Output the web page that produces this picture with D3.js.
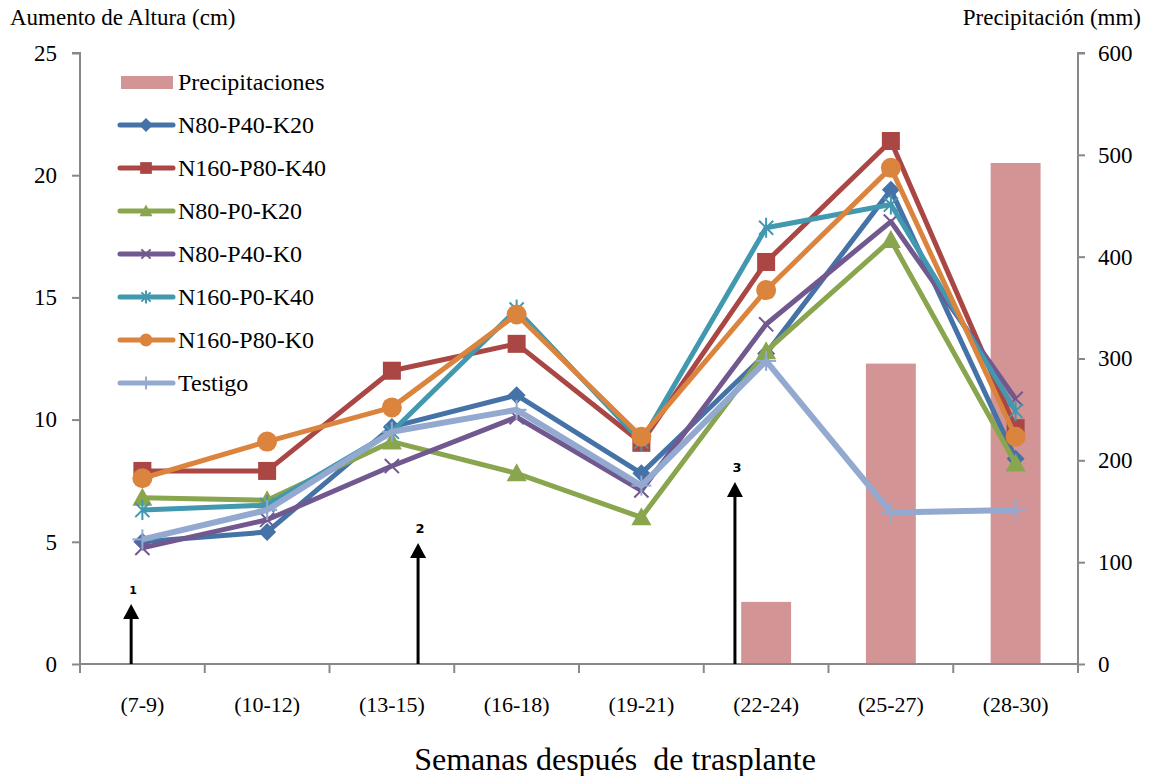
<!DOCTYPE html>
<html><head><meta charset="utf-8">
<script src="https://cdn.jsdelivr.net/npm/d3@7/dist/d3.min.js"></script>
<style>body{margin:0;background:#fff}svg{display:block}</style>
</head><body>
<svg id="c" width="1150" height="776" font-family="Liberation Serif"></svg>
<script>
const categories = ["(7-9)","(10-12)","(13-15)","(16-18)","(19-21)","(22-24)","(25-27)","(28-30)"];
const precipitacion = [null,null,null,null,null,61,295,492];
const seriesNames = ["N80-P40-K20","N160-P80-K40","N80-P0-K20","N80-P40-K0","N160-P0-K40","N160-P80-K0","Testigo"];
const s1 = [5.0,5.4,9.7,11.0,7.8,12.7,19.4,8.4];
const s2 = [7.9,7.9,12.0,13.1,9.05,16.45,21.4,9.65];
const s3 = [6.8,6.7,9.1,7.8,6.0,12.8,17.35,8.2];
const s4 = [4.75,5.9,8.1,10.1,7.1,13.9,18.1,10.85];
const s5 = [6.3,6.5,9.5,14.5,9.1,17.85,18.8,10.35];
const s6 = [7.6,9.1,10.5,14.3,9.3,15.3,20.3,9.3];
const s7 = [5.1,6.3,9.5,10.4,7.3,12.4,6.2,6.3];
const leftTicks = [0,5,10,15,20,25];
const rightTicks = [0,100,200,300,400,500,600];
const arrows = [{label:"1",cat:"(7-9)",off:-0.09,top:2.45},{label:"2",cat:"(13-15)",off:0.21,top:4.95},{label:"3",cat:"(22-24)",off:-0.25,top:7.45}];

const colors = ["#4572A7","#AA4643","#89A54E","#71588F","#4198AF","#DB843D","#93A9CF"];
const markers = ["diamond","square","triangle","x","star","circle","plus"];
const allSeries = [s1,s2,s3,s4,s5,s6,s7];
const barColor = "#D39495";
const FONT = "Liberation Serif";

const svg = d3.select("#c");
const L=80,R=1078,T=53,B=664;
const x = d3.scaleBand().domain(categories).range([L,R]);
const yL = d3.scaleLinear().domain([0,25]).range([B,T]);
const yR = d3.scaleLinear().domain([0,600]).range([B,T]);
const axisColor="#888";

// bars
svg.append("g").selectAll("rect").data(categories.map((c,i)=>({c,v:precipitacion[i]})).filter(d=>d.v!=null))
 .enter().append("rect")
 .attr("x",d=>x(d.c)+x.bandwidth()*0.3).attr("width",x.bandwidth()*0.4)
 .attr("y",d=>yR(d.v)).attr("height",d=>B-yR(d.v)).attr("fill",barColor);

// axes
const gl = svg.append("g").attr("transform",`translate(${L},0)`).call(d3.axisLeft(yL).tickValues(leftTicks).tickSize(8).tickPadding(15));
const gr = svg.append("g").attr("transform",`translate(${R},0)`).call(d3.axisRight(yR).tickValues(rightTicks).tickSize(7).tickPadding(13));
const gb = svg.append("g").attr("transform",`translate(0,${B})`).call(d3.axisBottom(x).tickSize(0).tickPadding(32));
[gl,gr,gb].forEach(g=>{g.attr("font-family",FONT).attr("font-size",23);g.selectAll("path").attr("stroke",axisColor).attr("stroke-width",2);g.selectAll("line").attr("stroke",axisColor).attr("stroke-width",2);g.selectAll("text").attr("fill","#000");});
gb.attr("font-size",22);
gl.select("path").attr("d",`M-8,${T}H0V${B}`);
gr.select("path").attr("d",`M7,${T}H0V${B}`);
gb.select("path").attr("d",`M${L},0H${R}`);
// x boundary ticks
svg.append("g").selectAll("line").data(categories.map(c=>x(c)).concat([R])).enter().append("line")
 .attr("x1",d=>d).attr("x2",d=>d).attr("y1",B).attr("y2",B+9).attr("stroke",axisColor).attr("stroke-width",2);

// arrows
arrows.forEach(a=>{
  const ax = x(a.cat)+x.bandwidth()*(0.5+a.off);
  const ty = yL(a.top);
  svg.append("path").attr("d",`M${ax},${B}V${ty+12}`).attr("stroke","#000").attr("stroke-width",3).attr("fill","none");
  svg.append("path").attr("d",`M${ax-8},${ty+15}L${ax},${ty}L${ax+8},${ty+15}Z`).attr("fill","#000");
  svg.append("text").attr("x",ax+2).attr("y",ty-10).attr("text-anchor","middle").attr("font-family","DejaVu Sans").attr("font-weight","bold").attr("font-size",a.label==="1"?11:13).text(a.label);
});

function drawMarker(g,type,cx,cy,color,s){
  if(type==="diamond") g.append("path").attr("d",`M${cx},${cy-s}L${cx+s},${cy}L${cx},${cy+s}L${cx-s},${cy}Z`).attr("fill",color);
  else if(type==="square") g.append("rect").attr("x",cx-s*0.9).attr("y",cy-s*0.9).attr("width",s*1.8).attr("height",s*1.8).attr("fill",color);
  else if(type==="triangle") g.append("path").attr("d",`M${cx},${cy-s}L${cx+s},${cy+s*0.8}L${cx-s},${cy+s*0.8}Z`).attr("fill",color);
  else if(type==="circle") g.append("circle").attr("cx",cx).attr("cy",cy).attr("r",s).attr("fill",color);
  else {
    const segs = type==="x"?[45,135]:type==="plus"?[0,90]:[45,135,90];
    segs.forEach(a=>{const r=a*Math.PI/180;g.append("line").attr("x1",cx-s*Math.cos(r)).attr("y1",cy-s*Math.sin(r)).attr("x2",cx+s*Math.cos(r)).attr("y2",cy+s*Math.sin(r)).attr("stroke",color).attr("stroke-width",2);});
  }
}

const line = d3.line().x((d,i)=>x(categories[i])+x.bandwidth()/2).y(d=>yL(d));
allSeries.forEach((s,k)=>{
  const g = svg.append("g");
  g.append("path").datum(s).attr("d",line).attr("fill","none").attr("stroke",colors[k]).attr("stroke-width",k===6?6:5).attr("stroke-linejoin","round");
  const size = {diamond:9,square:10,triangle:10,circle:10,x:10,star:10,plus:10}[markers[k]];
  s.forEach((v,i)=>drawMarker(g,markers[k],x(categories[i])+x.bandwidth()/2,yL(v),colors[k],size));
});

// legend
const lg = svg.append("g").attr("font-family",FONT).attr("font-size",24);
const lx1=120,lx2=173,ly0=82,lstep=43;
lg.append("rect").attr("x",121).attr("y",ly0-6).attr("width",52).attr("height",13).attr("fill",barColor);
lg.append("text").attr("x",178).attr("y",ly0+8).text("Precipitaciones");
seriesNames.forEach((n,k)=>{
  const yy = ly0+lstep*(k+1);
  lg.append("line").attr("x1",lx1).attr("x2",lx2).attr("y1",yy).attr("y2",yy).attr("stroke",colors[k]).attr("stroke-width",5).attr("stroke-linecap","round");
  drawMarker(lg,markers[k],146,yy,colors[k],markers[k]==="diamond"?7:6.5);
  lg.append("text").attr("x",178).attr("y",yy+8).text(n);
});

// titles
svg.append("text").attr("x",10).attr("y",25).attr("font-size",23).text("Aumento de Altura (cm)");
svg.append("text").attr("x",1141).attr("y",25).attr("text-anchor","end").attr("font-size",23).text("Precipitación (mm)");
svg.append("text").attr("x",615).attr("y",770).attr("text-anchor","middle").attr("font-size",32).style("white-space","pre").attr("xml:space","preserve").text("Semanas después  de trasplante");
</script>
</body></html>
